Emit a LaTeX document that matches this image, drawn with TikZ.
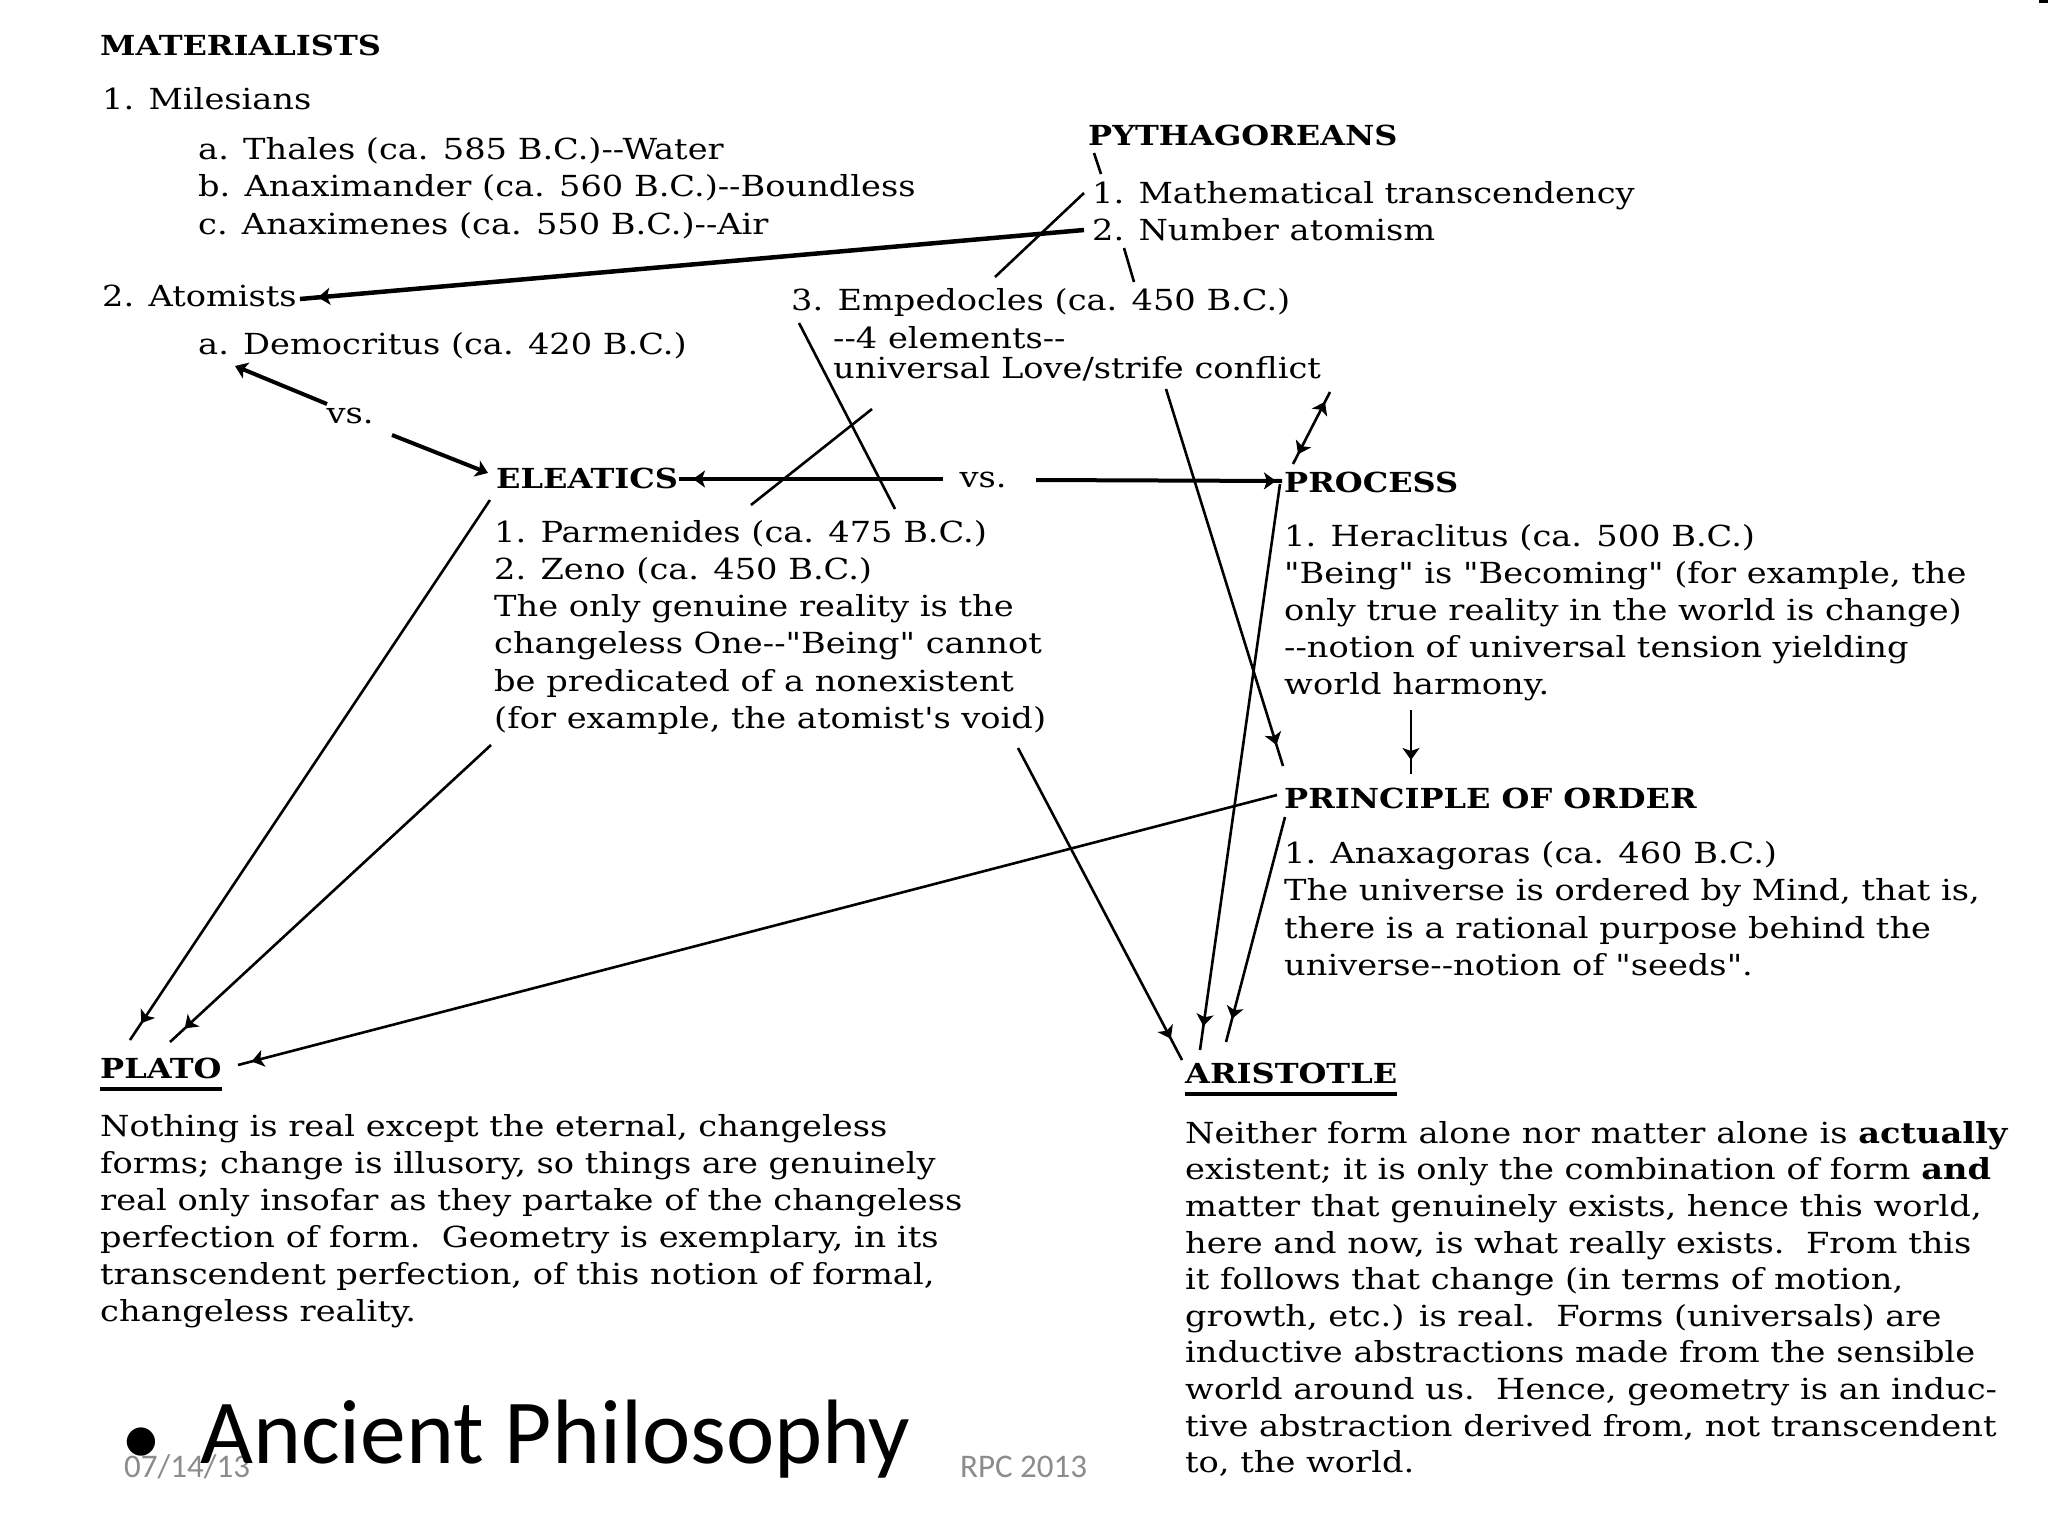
\documentclass[tikz,border=0pt]{standalone}
\usepackage{fontspec}
\usetikzlibrary{arrows.meta,decorations.markings,calc}
\newfontfamily\tw{DejaVu Serif}[FakeStretch=1.16]
\newfontfamily\calib{Carlito}
\definecolor{footgray}{RGB}{140,140,140}
\newcommand\fl{\rule{0pt}{27pt}}
\newcommand\dd{-\kern0pt-}
\tikzset{
  >={Stealth[length=12pt,width=17pt,inset=3pt]},
  body/.style={font=\tw\fontsize{29}{37}\selectfont, inner sep=0pt, align=left, anchor=north west},
  oneline/.style={font=\tw\fontsize{29}{37}\selectfont, inner sep=0pt, anchor=base west},
  head/.style={font=\tw\bfseries\fontsize{27.6}{37}\selectfont, inner sep=0pt, anchor=base west},
  conn/.style={line width=2.6pt},
  thick conn/.style={line width=4pt},
  tipat/.style={postaction={decorate,decoration={markings,mark=at position -#1 with {\arrow{>}}}}},
  bothtips/.style={postaction={decorate,decoration={markings,
      mark=at position #1 with {\arrowreversed{>}},
      mark=at position -#1 with {\arrow{>}}}}},
}
\begin{document}
\begin{tikzpicture}[x=1pt,y=-1pt]
\useasboundingbox (0,0) rectangle (2048,1536);
\fill[white] (0,0) rectangle (2048,1536);
\fill[black] (2039,0) rectangle (2048,3);

% ---------- texts ----------
\node[head] (mat) at (100,56) {MATERIALISTS};
\node[oneline] (miles) at (102,110) {1. Milesians};
\node[body, font=\tw\fontsize{29}{37.5}\selectfont] (thales) at (198,132)
  {\fl a. Thales (ca. 585 B.C.)\dd Water\\
   b. Anaximander (ca. 560 B.C.)\dd Boundless\\
   c. Anaximenes (ca. 550 B.C.)\dd Air};
\node[oneline] (atom) at (102,306) {2. Atomists};
\node[oneline] (democ) at (198,354) {a. Democritus (ca. 420 B.C.)};
\node[oneline, anchor=center] (vsl) at (350,416) {vs.};

\node[head] (pyth) at (1088,146) {PYTHAGOREANS};
\node[body] (pythb) at (1092,176)
  {\fl 1. Mathematical transcendency\\
   2. Number atomism};

\node[oneline] (emp) at (791,310) {3. Empedocles (ca. 450 B.C.)};
\node[oneline] (emp2) at (833,348) {\dd 4 elements\dd};
\node[oneline] (emp3) at (833,378) {universal Love/strife conflict};

\node[head] (eleat) at (496,488) {ELEATICS};
\node[oneline, anchor=center] (vsm) at (983,480) {vs.};
\node[body, font=\tw\fontsize{29}{37.2}\selectfont] (eleatb) at (494,515)
  {\fl 1. Parmenides (ca. 475 B.C.)\\
   2. Zeno (ca. 450 B.C.)\\
   The only genuine reality is the\\
   changeless One\dd"Being" cannot\\
   be predicated of a nonexistent\\
   (for example, the atomist's void)};

\node[head] (proc) at (1284,492) {PROCESS};
\node[body] (procb) at (1284,519)
  {\fl 1. Heraclitus (ca. 500 B.C.)\\
   "Being" is "Becoming" (for example, the\\
   only true reality in the world is change)\\
   \dd notion of universal tension yielding\\
   world harmony.};

\node[head] (princ) at (1284,808) {PRINCIPLE OF ORDER};
\node[body, font=\tw\fontsize{29}{37.5}\selectfont] (princb) at (1284,836)
  {\fl 1. Anaxagoras (ca. 460 B.C.)\\
   The universe is ordered by Mind, that is,\\
   there is a rational purpose behind the\\
   universe\dd notion of "seeds".};

\node[head] (plato) at (100,1078) {PLATO};
\draw[line width=4pt] ($(plato.south west)+(0,10)$) -- ($(plato.south east)+(0,10)$);
\node[body] (platob) at (100,1109)
  {\fl Nothing is real except the eternal, changeless\\
   forms; change is illusory, so things are genuinely\\
   real only insofar as they partake of the changeless\\
   perfection of form.\ \ Geometry is exemplary, in its\\
   transcendent perfection, of this notion of formal,\\
   changeless reality.};

\node[head] (arist) at (1185,1083) {ARISTOTLE};
\draw[line width=4pt] ($(arist.south west)+(0,10)$) -- ($(arist.south east)+(0,10)$);
\node[body, font=\tw\fontsize{29}{36.6}\selectfont] (aristb) at (1185,1116)
  {\fl Neither form alone nor matter alone is \textbf{actually}\\
   existent; it is only the combination of form \textbf{and}\\
   matter that genuinely exists, hence this world,\\
   here and now, is what really exists.\ \ From this\\
   it follows that change (in terms of motion,\\
   growth, etc.) is real.\ \ Forms (universals) are\\
   inductive abstractions made from the sensible\\
   world around us.\ \ Hence, geometry is an induc-\\
   tive abstraction derived from, not transcendent\\
   to, the world.};

% ---------- slide footer ----------
\node[font=\calib\fontsize{33}{33}\selectfont, text=footgray, inner sep=0pt, anchor=base west] (date) at (124,1477) {07/14/13};
\node[font=\calib\fontsize{33}{33}\selectfont, text=footgray, inner sep=0pt, anchor=base west] (rpc) at (960,1477) {RPC 2013};
\node[font=\calib\fontsize{80}{80}\selectfont, inner sep=0pt, anchor=base west] (bul) at (121,1464) {•};
\node[font=\calib\fontsize{91.5}{91.5}\selectfont, inner sep=0pt, anchor=base west] (title) at (200,1463) {Ancient Philosophy};

% ---------- connector end points ----------
\coordinate (nA) at (1084,230);  \coordinate (atA) at (300,299);
\coordinate (pyB) at (1094,153); \coordinate (m1B) at (1101,174);
\coordinate (m1C) at (1084,193); \coordinate (emC) at (995,277);
\coordinate (n2D) at (1124,248); \coordinate (emD) at (1134,282);
\coordinate (emE) at (799,323);  \coordinate (paE) at (895,509);
\coordinate (emF) at (872,409);  \coordinate (paF) at (751,505);
\coordinate (vsG1) at (327,404); \coordinate (deG1) at (235,366);
\coordinate (vsG2) at (392,435); \coordinate (elG2) at (488,473);
\coordinate (vsH1) at (943,479); \coordinate (elH1) at (679,479);
\coordinate (vsH2) at (1036,480); \coordinate (prH2) at (1282,481);
\coordinate (emI) at (1330,392); \coordinate (prI) at (1293,464);
\coordinate (emJ) at (1166,389); \coordinate (poJ) at (1283,766);
\coordinate (prK) at (1280,484); \coordinate (arK) at (1200,1050);
\coordinate (elL) at (490,500);  \coordinate (plL) at (130,1040);
\coordinate (elM) at (491,745);  \coordinate (plM) at (170,1042);
\coordinate (poN) at (1277,795); \coordinate (plN) at (238,1065);
\coordinate (elO) at (1018,748); \coordinate (arO) at (1182,1060);
\coordinate (poQ) at (1285,817); \coordinate (arQ) at (1226,1042);
\coordinate (hrR) at (1411,710); \coordinate (poR) at (1411,774);

% ---------- connectors ----------
\draw[line width=4.5pt, tipat=18pt] (nA) -- (atA);
\draw[conn] (pyB) -- (m1B);
\draw[conn] (m1C) -- (emC);
\draw[conn] (n2D) -- (emD);
\draw[conn] (emE) -- (paE);
\draw[conn] (emF) -- (paF);
\draw[thick conn, ->] (vsG1) -- (deG1);
\draw[thick conn, ->] (vsG2) -- (elG2);
\draw[thick conn, tipat=14pt] (vsH1) -- (elH1);
\draw[thick conn, tipat=6pt] (vsH2) -- (prH2);
\draw[conn, bothtips=11pt] (emI) -- (prI);
\draw[conn, tipat=22pt] (emJ) -- (poJ);
\draw[conn, tipat=24pt] (prK) -- (arK);
\draw[conn, tipat=20pt] (elL) -- (plL);
\draw[conn, tipat=20pt] (elM) -- (plM);
\draw[conn, tipat=14pt] (poN) -- (plN);
\draw[conn, tipat=24pt] (elO) -- (arO);
\draw[conn, tipat=24pt] (poQ) -- (arQ);
\draw[conn, tipat=14pt] (hrR) -- (poR);
\end{tikzpicture}
\end{document}
